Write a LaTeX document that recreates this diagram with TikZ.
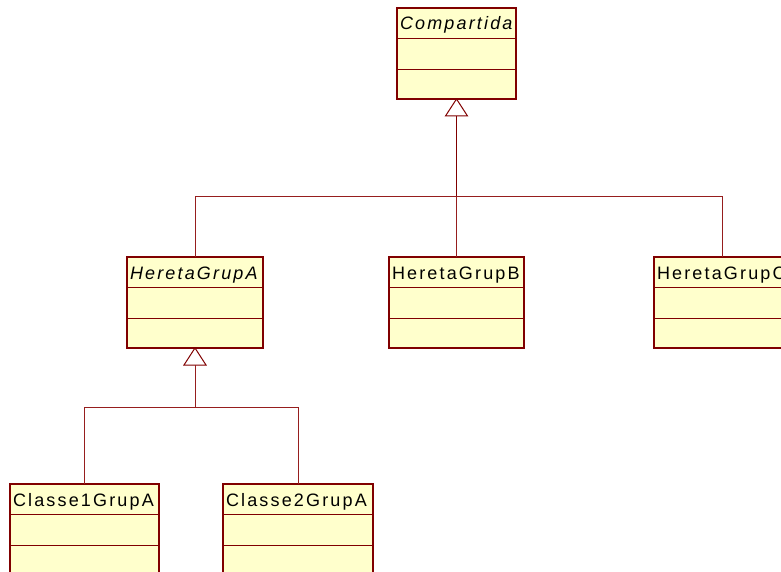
\documentclass[tikz,border=0pt]{standalone}
\usepackage{fontspec}
\setmainfont{Liberation Sans}
\usetikzlibrary{calc}

\definecolor{umlborder}{RGB}{128,0,0}
\definecolor{umlfill}{RGB}{255,255,204}
\definecolor{umlline}{RGB}{150,30,30}

\tikzset{
  classbox/.style={draw=umlborder, fill=umlfill, line width=1.3pt, rectangle,
    anchor=north west, minimum height=91pt, inner sep=0pt, outer sep=0pt},
  classsep/.style={draw=umlborder, line width=1.3pt},
  classname/.style={anchor=base west, inner sep=0pt, outer sep=0pt,
    font=\fontsize{18}{20}\selectfont\addfontfeature{LetterSpace=12}},
  gen/.style={draw=umlline, line width=0.8pt},
  trunk/.style={draw=umlborder, line width=1.6pt},
  genhead/.style={draw=umlborder, fill=white, line width=1pt},
}

% #1 node name, #2 x, #3 y, #4 width, #5 label text
\newcommand\umlclass[5]{%
  \node[classbox, minimum width=#4pt] (#1) at (#2,#3) {};
  \draw[classsep] ($(#1.north west)+(0,30.5)$) -- ($(#1.north east)+(0,30.5)$);
  \draw[classsep] ($(#1.north west)+(0,61.5)$) -- ($(#1.north east)+(0,61.5)$);
  \node[classname] (#1-label) at ($(#1.north west)+(3,22)$) {#5};
}

% hollow generalisation head: tip on the parent's bottom edge
\newcommand\genhead[2]{% #1 parent node, #2 name of the base coordinate
  \draw[genhead] (#1.south) -- ++(-11,17) -- ++(22,0) -- cycle;
  \coordinate (#2) at ($(#1.south)+(0,17)$);
}

\begin{document}
\begin{tikzpicture}[x=1pt, y=-1pt]
  \useasboundingbox (0,0) rectangle (781,572);
  \clip (0,0) rectangle (781,572);

  % classes
  \umlclass{cmp}{397}{8}{119}{\itshape Compartida}
  \umlclass{hA}{127}{257}{136}{\itshape HeretaGrupA}
  \umlclass{hB}{389}{257}{135}{HeretaGrupB}
  \umlclass{hC}{654}{257}{136}{HeretaGrupC}
  \umlclass{c1}{10}{484}{149}{Classe1GrupA}
  \umlclass{c2}{223}{484}{150}{Classe2GrupA}

  % generalisation Compartida <- HeretaGrup*
  \genhead{cmp}{cmpbase}
  \coordinate (busTop) at ($(cmpbase)+(0,80)$);
  \draw[gen] (hA.north) -- (hA.north |- busTop) -- (hC.north |- busTop) -- (hC.north);
  \draw[gen] (hB.north) -- (busTop);
  \draw[trunk] (busTop) -- (cmpbase);

  % generalisation HeretaGrupA <- Classe*GrupA
  \genhead{hA}{hAbase}
  \coordinate (busA) at ($(hAbase)+(0,42)$);
  \coordinate (c1top) at ($(c1.north west)+(74,0)$);
  \coordinate (c2top) at ($(c2.north west)+(75,0)$);
  \draw[gen] (c1top) -- (c1top |- busA) -- (c2top |- busA) -- (c2top);
  \draw[gen] (busA) -- (hAbase);
\end{tikzpicture}
\end{document}
